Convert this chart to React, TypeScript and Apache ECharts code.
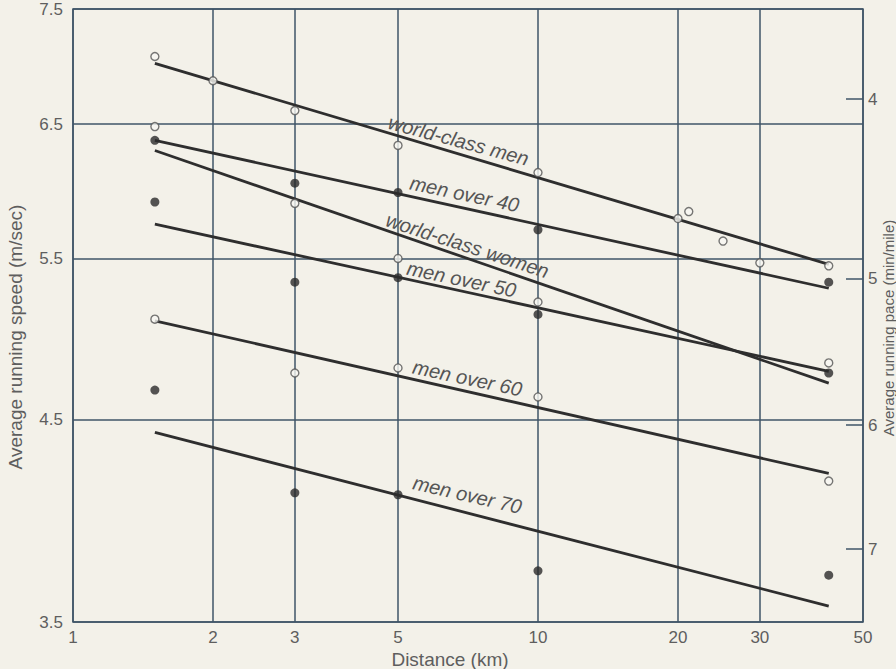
import React, { useEffect, useRef } from "react";
import * as echarts from "echarts";

// ---- tick labels ----
const distanceTicks = [1, 2, 3, 5, 10, 20, 30, 50];
const speedTicks = [3.5, 4.5, 5.5, 6.5, 7.5];
const paceTicks = [4, 5, 6, 7]; // min/mile
const METERS_PER_MILE = 1609.344;

// ---- data (km, m/s) ----
const worldMenDist = [1.5, 2, 3, 5, 10, 20, 21.1, 25, 30, 42.2];
const worldMenSpeed = [7.07, 6.86, 6.61, 6.33, 6.12, 5.78, 5.83, 5.62, 5.47, 5.45];
const commonDist = [1.5, 3, 5, 10, 42.2];
const over40Speed = [6.37, 6.04, 5.97, 5.7, 5.34];
const worldWomenSpeed = [6.48, 5.89, 5.5, 5.21, 4.83];
const over50Speed = [5.9, 5.34, 5.37, 5.13, 4.77];
const over60Speed = [5.1, 4.77, 4.8, 4.63, 4.17];
const over70Speed = [4.67, 4.11, 4.1, 3.73, 3.71];

// fitted lines: speed at start and end distance
const fitDist = [1.5, 42.2];
const worldMenFit = [7.01, 5.46];
const over40Fit = [6.37, 5.3];
const worldWomenFit = [6.29, 4.71];
const over50Fit = [5.74, 4.78];
const over60Fit = [5.09, 4.21];
const over70Fit = [4.43, 3.57];

// label anchor [distance, speed] and tilt
const labelNames = ["world-class men", "men over 40", "world-class women", "men over 50", "men over 60", "men over 70"];
const labelAnchors = [
  [6.75, 6.37],
  [6.95, 5.96],
  [7.05, 5.59],
  [6.85, 5.36],
  [7.05, 4.74],
  [7.05, 4.1],
];
const labelTilt = [-15, -12, -18, -12, -12, -13];

const BG = "#f3f1e9";
const GRID = "#3f5467";
const LINE = "#2e2e2e";
const TEXT = "#5e5e5e";
const FONT = "Liberation Sans, Arial, sans-serif";

const groups = [
  { dist: worldMenDist, speed: worldMenSpeed, fit: worldMenFit, open: true },
  { dist: commonDist, speed: over40Speed, fit: over40Fit, open: false },
  { dist: commonDist, speed: worldWomenSpeed, fit: worldWomenFit, open: true },
  { dist: commonDist, speed: over50Speed, fit: over50Fit, open: false },
  { dist: commonDist, speed: over60Speed, fit: over60Fit, open: true },
  { dist: commonDist, speed: over70Speed, fit: over70Fit, open: false },
];

function buildSeries() {
  const series: any[] = [];
  groups.forEach((g, i) => {
    series.push({
      type: "line",
      name: labelNames[i],
      data: fitDist.map((d, k) => [d, g.fit[k]]),
      symbol: "none",
      silent: true,
      z: 3,
      lineStyle: { color: LINE, width: 2.8 },
      markPoint: {
        symbol: "circle",
        symbolSize: 0,
        silent: true,
        data: [{ coord: labelAnchors[i], value: labelNames[i] }],
        label: {
          show: true,
          position: "inside",
          formatter: labelNames[i],
          rotate: labelTilt[i],
          fontStyle: "italic",
          fontSize: 20,
          color: "#555",
          fontFamily: FONT,
        },
      },
    });
    series.push({
      type: "scatter",
      data: g.dist.map((d, k) => [d, g.speed[k]]),
      symbol: "circle",
      symbolSize: g.open ? 8 : 9,
      silent: true,
      z: 4,
      itemStyle: g.open
        ? { color: "#f8f7f2", borderColor: "#555", borderWidth: 1.4 }
        : { color: "#2a2a2a" },
    });
  });
  return series;
}

const paceSpeeds = paceTicks.map((p) => METERS_PER_MILE / 60 / p);

export default function App() {
  const ref = useRef<HTMLDivElement>(null);
  useEffect(() => {
    const chart = echarts.init(ref.current!, undefined, { renderer: "svg" });
    chart.setOption({
      animation: false,
      backgroundColor: BG,
      grid: {
        left: 73,
        right: 33,
        top: 9,
        bottom: 47,
        show: true,
        borderColor: GRID,
        borderWidth: 1.5,
        backgroundColor: "transparent",
      },
      xAxis: {
        type: "log",
        logBase: 10,
        min: 1,
        max: 50,
        axisLine: { show: false },
        axisTick: { show: false, customValues: distanceTicks },
        axisLabel: {
          customValues: distanceTicks,
          color: TEXT,
          fontSize: 17,
          fontFamily: FONT,
          margin: 7,
          formatter: (v: number) => String(Math.round(v)),
        },
        splitLine: { show: true, lineStyle: { color: GRID, width: 1.5 } },
      },
      yAxis: [
        {
          type: "log",
          logBase: 10,
          min: 3.5,
          max: 7.5,
          axisLine: { show: false },
          axisTick: { show: false, customValues: speedTicks },
          axisLabel: {
            customValues: speedTicks,
            color: TEXT,
            fontSize: 17,
            fontFamily: FONT,
            margin: 10,
            formatter: (v: number) => v.toFixed(1),
          },
          splitLine: { show: true, lineStyle: { color: GRID, width: 1.5 } },
        },
        {
          type: "log",
          logBase: 10,
          min: 3.5,
          max: 7.5,
          position: "right",
          axisLine: { show: false },
          axisTick: {
            show: true,
            inside: true,
            length: 17,
            customValues: paceSpeeds,
            lineStyle: { color: GRID, width: 1.5 },
          },
          axisLabel: {
            customValues: paceSpeeds,
            color: TEXT,
            fontSize: 17,
            fontFamily: FONT,
            margin: 5,
            formatter: (v: number) => String(Math.round(METERS_PER_MILE / 60 / v)),
          },
          splitLine: { show: false },
        },
      ],
      graphic: [
        {
          type: "text",
          x: 15,
          y: 337,
          rotation: Math.PI / 2,
          style: {
            text: "Average running speed (m/sec)",
            fontSize: 19,
            fontFamily: FONT,
            fill: TEXT,
            align: "center",
            verticalAlign: "middle",
          },
        },
        {
          type: "text",
          x: 450,
          y: 659,
          style: {
            text: "Distance (km)",
            fontSize: 19,
            fontFamily: FONT,
            fill: TEXT,
            align: "center",
            verticalAlign: "middle",
          },
        },
        {
          type: "text",
          x: 888,
          y: 328,
          rotation: Math.PI / 2,
          style: {
            text: "Average running pace (min/mile)",
            fontSize: 15,
            fontFamily: FONT,
            fill: TEXT,
            align: "center",
            verticalAlign: "middle",
          },
        },
      ],
      series: buildSeries(),
    });
    return () => chart.dispose();
  }, []);
  return (
    <div
      ref={ref}
      style={{ position: "fixed", left: 0, top: 0, width: 896, height: 669, background: BG }}
    />
  );
}
